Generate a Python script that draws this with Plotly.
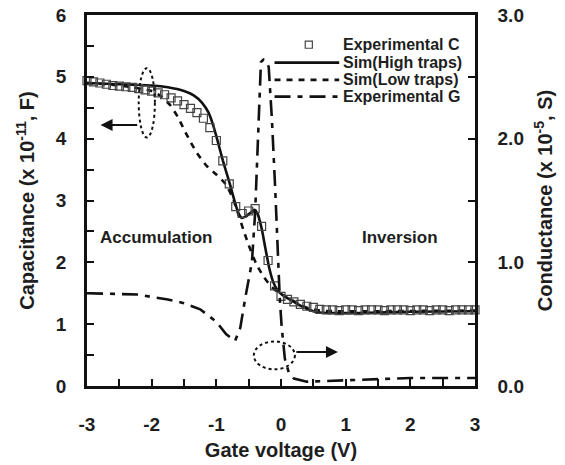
import numpy as np
import plotly.graph_objects as go

# ---- data -------------------------------------------------------------
# Experimental capacitance (x 1e-11 F), measured every 0.1 V
vg_exp = [round(-3.0 + 0.1 * i, 1) for i in range(61)]
c_exp = [4.94, 4.92, 4.90, 4.88, 4.86, 4.85, 4.84, 4.83, 4.81, 4.79,
         4.77, 4.74, 4.71, 4.66, 4.61, 4.55, 4.49, 4.42, 4.33, 4.18,
         3.97, 3.64, 3.27, 2.90, 2.79, 2.83, 2.87, 2.58, 2.03, 1.62,
         1.45, 1.40, 1.36, 1.32, 1.29, 1.27, 1.24, 1.23, 1.23, 1.22,
         1.23, 1.23, 1.22, 1.23, 1.23, 1.23, 1.22, 1.23, 1.23, 1.23,
         1.22, 1.23, 1.23, 1.22, 1.23, 1.23, 1.22, 1.23, 1.23, 1.23, 1.23]

# Simulation with high trap density
vg_high = [-3.0, -2.5, -2.0, -1.75, -1.5, -1.35, -1.22, -1.12, -1.05, -1.0,
           -0.9, -0.8, -0.72, -0.66, -0.61, -0.55, -0.47, -0.41, -0.36, -0.30,
           -0.24, -0.18, -0.12, -0.06, 0.0, 0.1, 0.2, 0.3, 0.4, 0.5,
           0.6, 0.8, 1.2, 2.0, 3.0]
c_high = [4.90, 4.88, 4.86, 4.83, 4.77, 4.70, 4.58, 4.42, 4.22, 4.04,
          3.65, 3.30, 3.00, 2.80, 2.72, 2.74, 2.80, 2.85, 2.78, 2.55,
          2.22, 1.90, 1.68, 1.56, 1.49, 1.42, 1.36, 1.30, 1.25, 1.21,
          1.19, 1.18, 1.18, 1.20, 1.21]

# Simulation with low trap density
vg_low = [-3.0, -2.5, -2.0, -1.85, -1.72, -1.6, -1.5, -1.4, -1.3, -1.15,
          -1.0, -0.86, -0.75, -0.66, -0.58, -0.5, -0.38, -0.27, -0.16, -0.05,
          0.05, 0.15, 0.3, 0.45, 0.6, 0.8, 1.5, 3.0]
c_low = [4.90, 4.86, 4.77, 4.68, 4.55, 4.36, 4.15, 3.95, 3.77, 3.56,
         3.42, 3.27, 3.05, 2.78, 2.52, 2.28, 1.97, 1.77, 1.62, 1.52,
         1.46, 1.40, 1.31, 1.25, 1.22, 1.21, 1.21, 1.22]

# Experimental conductance (x 1e-5 S)
vg_g = [-3.0, -2.5, -2.2, -2.0, -1.75, -1.5, -1.25, -1.0, -0.85, -0.71,
        -0.63, -0.55, -0.45, -0.40, -0.37, -0.34, -0.31, -0.27, -0.23, -0.19,
        -0.14, -0.09, -0.06, -0.02, 0.01, 0.06, 0.12, 0.2, 0.4, 0.7,
        1.0, 1.5, 2.0, 2.5, 3.0]
g_exp = [0.75, 0.745, 0.74, 0.72, 0.70, 0.67, 0.62, 0.52, 0.42, 0.365,
         0.47, 0.72, 1.00, 1.40, 1.85, 2.30, 2.62, 2.64, 2.63, 2.58,
         2.15, 1.60, 1.15, 0.72, 0.48, 0.22, 0.11, 0.06, 0.035, 0.04,
         0.05, 0.058, 0.065, 0.065, 0.065]

x_ticks = [-3, -2, -1, 0, 1, 2, 3]
x_ticktext = ["-3", "-2", "-1", "0", "1", "2", "3"]
c_ticks = [0, 1, 2, 3, 4, 5, 6]
g_ticks = [0.0, 1.0, 2.0, 3.0]

# ---- styling ------------------------------------------------------------
FONT = "Liberation Sans"
TXT = "#1e1e1e"
INK = "#111111"
DASH_LOW = "6px,6px"
DASH_G = "16px,7px,5px,7px"

fig = go.Figure()

fig.add_trace(go.Scatter(
    x=vg_high, y=c_high, mode="lines", name="Sim(High traps)",
    line=dict(color=INK, width=2.6, shape="spline", smoothing=0.6)))
fig.add_trace(go.Scatter(
    x=vg_low, y=c_low, mode="lines", name="Sim(Low traps)",
    line=dict(color=INK, width=2.6, dash=DASH_LOW, shape="spline", smoothing=0.6)))
fig.add_trace(go.Scatter(
    x=vg_exp, y=c_exp, mode="markers", name="Experimental C", cliponaxis=False,
    marker=dict(symbol="square-open", size=8, color="#444444",
                line=dict(width=1.2, color="#444444"))))
fig.add_trace(go.Scatter(
    x=vg_g, y=g_exp, mode="lines", name="Experimental G", yaxis="y2",
    line=dict(color=INK, width=2.6, dash=DASH_G)))

# ---- legend (drawn by hand in the upper right) ----------------------------
leg_rows = [("Experimental C", "marker", None),
            ("Sim(High traps)", "line", "solid"),
            ("Sim(Low traps)", "line", DASH_LOW),
            ("Experimental G", "line", DASH_G)]
row_y = [5.52, 5.23, 4.95, 4.68]
line_x0, line_x1, text_x = -0.10, 0.90, 0.93
shapes = []
annotations = []
for (label, kind, dash), yy in zip(leg_rows, row_y):
    if kind == "marker":
        shapes.append(dict(type="rect", xref="x", yref="y",
                           x0=0.43 - 0.055, x1=0.43 + 0.055,
                           y0=yy - 0.058, y1=yy + 0.058,
                           line=dict(color="#444444", width=1.2)))
    else:
        shapes.append(dict(type="line", xref="x", yref="y",
                           x0=line_x0, x1=line_x1, y0=yy, y1=yy,
                           line=dict(color=INK, width=2.6, dash=dash)))
    annotations.append(dict(x=text_x, y=yy, xref="x", yref="y", text=label,
                            showarrow=False, xanchor="left", yanchor="middle",
                            font=dict(family=FONT, size=16, color=TXT, weight="bold")))

# dotted ellipses marking which curve belongs to which axis
shapes.append(dict(type="circle", xref="x", yref="y", x0=-2.20, x1=-1.95,
                   y0=4.02, y1=5.14, line=dict(color=INK, width=2, dash="dot")))
shapes.append(dict(type="circle", xref="x", yref="y", x0=-0.42, x1=0.215,
                   y0=0.27, y1=0.72, line=dict(color=INK, width=2, dash="dot")))

annotations.append(dict(x=-2.79, y=4.22, ax=-2.2, ay=4.22, xref="x", yref="y",
                        axref="x", ayref="y", showarrow=True, arrowhead=2,
                        arrowsize=1.2, arrowwidth=2, arrowcolor=INK, text=""))
annotations.append(dict(x=0.88, y=0.55, ax=0.215, ay=0.55, xref="x", yref="y",
                        axref="x", ayref="y", showarrow=True, arrowhead=2,
                        arrowsize=1.2, arrowwidth=2, arrowcolor=INK, text=""))

annotations.append(dict(x=-1.94, y=2.40, xref="x", yref="y", text="Accumulation",
                        showarrow=False, font=dict(family=FONT, size=17, color=TXT, weight="bold")))
annotations.append(dict(x=1.84, y=2.40, xref="x", yref="y", text="Inversion",
                        showarrow=False, font=dict(family=FONT, size=17, color=TXT, weight="bold")))

tick_font = dict(family=FONT, size=19, color=TXT, weight="bold")
title_font = dict(family=FONT, size=20, color=TXT, weight="bold")
axis_common = dict(showline=True, linewidth=2.5, linecolor=INK, showgrid=False,
                   zeroline=False, ticks="inside", ticklen=7, tickwidth=2,
                   tickcolor=INK, tickfont=tick_font, automargin=False)

fig.update_layout(
    width=565, height=465,
    margin=dict(l=87, r=90, t=15, b=79),
    paper_bgcolor="white", plot_bgcolor="white",
    showlegend=False,
    shapes=shapes, annotations=annotations,
    xaxis=dict(range=[-3, 3], tickvals=x_ticks, ticktext=x_ticktext, mirror=True,
               minor=dict(dtick=0.5, ticks="inside", ticklen=7, tickwidth=2, tickcolor=INK),
               ticklabelstandoff=19,
               title=dict(text="Gate voltage (V)", font=title_font, standoff=10),
               **axis_common),
    yaxis=dict(range=[0, 6], tickvals=c_ticks,
               minor=dict(dtick=0.5, ticks="inside", ticklen=7, tickwidth=2, tickcolor=INK),
               ticklabelstandoff=14,
               title=dict(text="Capacitance (x 10<sup>-11</sup>, F)", font=title_font, standoff=16),
               **axis_common),
    yaxis2=dict(range=[0, 3], tickvals=g_ticks, tickformat=".1f",
                overlaying="y", side="right",
                minor=dict(dtick=0.5, ticks="inside", ticklen=7, tickwidth=2, tickcolor=INK),
                ticklabelstandoff=16,
                title=dict(text="Conductance (x 10<sup>-5</sup>, S)", font=title_font, standoff=16),
                **axis_common),
)

fig.write_html("out.html")
